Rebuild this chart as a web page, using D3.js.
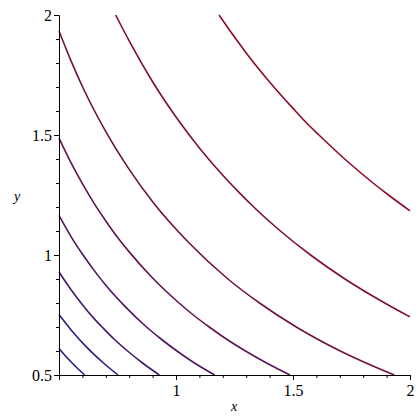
<!DOCTYPE html>
<html>
<head>
<meta charset="utf-8">
<script src="https://cdn.jsdelivr.net/npm/d3@7"></script>
<style>
  body { margin: 0; background: #fff; }
  svg text { font-family: "Liberation Serif", serif !important; }
</style>
</head>
<body>
<script>
// contour curves, [x, y] pairs, lowest level first
var curve1 = [[0.5, 0.61], [0.525, 0.582], [0.553, 0.553], [0.582, 0.525], [0.61, 0.5]];
var curve2 = [[0.5, 0.752], [0.55, 0.69], [0.617, 0.617], [0.69, 0.55], [0.752, 0.5]];
var curve3 = [[0.5, 0.929], [0.55, 0.857], [0.6, 0.793], [0.65, 0.735], [0.692, 0.692],
  [0.735, 0.65], [0.793, 0.6], [0.857, 0.55], [0.929, 0.5]];
var curve4 = [[0.5, 1.165], [0.55, 1.079], [0.6, 1.004], [0.65, 0.936], [0.7, 0.874], [0.784, 0.784],
  [0.874, 0.7], [0.936, 0.65], [1.004, 0.6], [1.079, 0.55], [1.165, 0.5]];
var curve5 = [[0.5, 1.487], [0.55, 1.387], [0.6, 1.297], [0.65, 1.215], [0.7, 1.142], [0.75, 1.074],
  [0.8, 1.013], [0.902, 0.902], [1.013, 0.8], [1.074, 0.75], [1.142, 0.7], [1.215, 0.65],
  [1.297, 0.6], [1.387, 0.55], [1.487, 0.5]];
var curve6 = [[0.5, 1.933], [0.55, 1.812], [0.6, 1.702], [0.7, 1.514], [0.8, 1.357], [0.9, 1.222],
  [1.053, 1.053], [1.222, 0.9], [1.357, 0.8], [1.514, 0.7], [1.702, 0.6], [1.812, 0.55], [1.933, 0.5]];
var curve7 = [[0.742, 2], [0.8, 1.892], [0.9, 1.722], [1.0, 1.575], [1.1, 1.446], [1.2, 1.332],
  [1.265, 1.265], [1.332, 1.2], [1.446, 1.1], [1.575, 1.0], [1.722, 0.9], [1.892, 0.8], [2, 0.742]];
var curve8 = [[1.184, 2], [1.25, 1.908], [1.3, 1.842], [1.4, 1.721], [1.5, 1.611], [1.554, 1.554],
  [1.611, 1.5], [1.721, 1.4], [1.842, 1.3], [1.908, 1.25], [2, 1.184]];

var contours = [curve1, curve2, curve3, curve4, curve5, curve6, curve7, curve8];

// axis ticks
var majorTicks = [0.5, 1, 1.5, 2];
var minorTicks = [0.6, 0.7, 0.8, 0.9, 1.1, 1.2, 1.3, 1.4, 1.6, 1.7, 1.8, 1.9];

var svgWidth = 420;
var svgHeight = 420;

var margin = {
  top: 15,
  right: 10,
  bottom: 45,
  left: 59
};

var width = svgWidth - margin.left - margin.right;
var height = svgHeight - margin.top - margin.bottom;

var svg = d3.select("body")
  .append("svg")
  .attr("width", svgWidth)
  .attr("height", svgHeight);

var chartGroup = svg.append("g")
  .attr("transform", `translate(${margin.left}, ${margin.top})`);

var xScale = d3.scaleLinear().domain([0.5, 2]).range([0, width]);
var yScale = d3.scaleLinear().domain([0.5, 2]).range([height, 0]);

// colour runs from blue (low) to dark red (high)
var colorScale = d3.scaleLinear()
  .domain([0, contours.length - 1])
  .range(["#1f1f8c", "#900a24"])
  .interpolate(d3.interpolateRgb);

var line = d3.line()
  .x(d => xScale(d[0]))
  .y(d => yScale(d[1]))
  .curve(d3.curveMonotoneX);

chartGroup.selectAll(".contour")
  .data(contours)
  .enter().append("path")
  .attr("class", "contour")
  .attr("d", line)
  .attr("fill", "none")
  .attr("stroke", (d, i) => colorScale(i))
  .attr("stroke-width", 1.6);

// minor ticks first, then the major axis with labels
chartGroup.append("g")
  .attr("transform", `translate(0, ${height})`)
  .call(d3.axisBottom(xScale).tickValues(minorTicks).tickSize(3).tickSizeOuter(0).tickFormat(""));

chartGroup.append("g")
  .attr("transform", `translate(0, ${height})`)
  .call(d3.axisBottom(xScale).tickValues(majorTicks).tickSize(5).tickSizeOuter(0).tickPadding(5)
    .tickFormat(d => d === 0.5 ? "" : String(d)));

chartGroup.append("g")
  .call(d3.axisLeft(yScale).tickValues(minorTicks).tickSize(3).tickSizeOuter(0).tickFormat(""));

chartGroup.append("g")
  .call(d3.axisLeft(yScale).tickValues(majorTicks).tickSize(5).tickSizeOuter(0).tickPadding(2)
    .tickFormat(d => String(d)));

chartGroup.selectAll(".domain").attr("stroke", "#000");
chartGroup.selectAll(".tick line").attr("stroke", "#000");
chartGroup.selectAll(".tick text")
  .attr("fill", "#000")
  .attr("font-size", 16)
  .style("font-size", "16px");

// axis titles
svg.append("text")
  .attr("x", 234)
  .attr("y", 411)
  .attr("text-anchor", "middle")
  .attr("font-style", "italic")
  .attr("font-size", 14)
  .text("x");

svg.append("text")
  .attr("x", 17)
  .attr("y", 201)
  .attr("text-anchor", "middle")
  .attr("font-style", "italic")
  .attr("font-size", 14)
  .text("y");
</script>
</body>
</html>
